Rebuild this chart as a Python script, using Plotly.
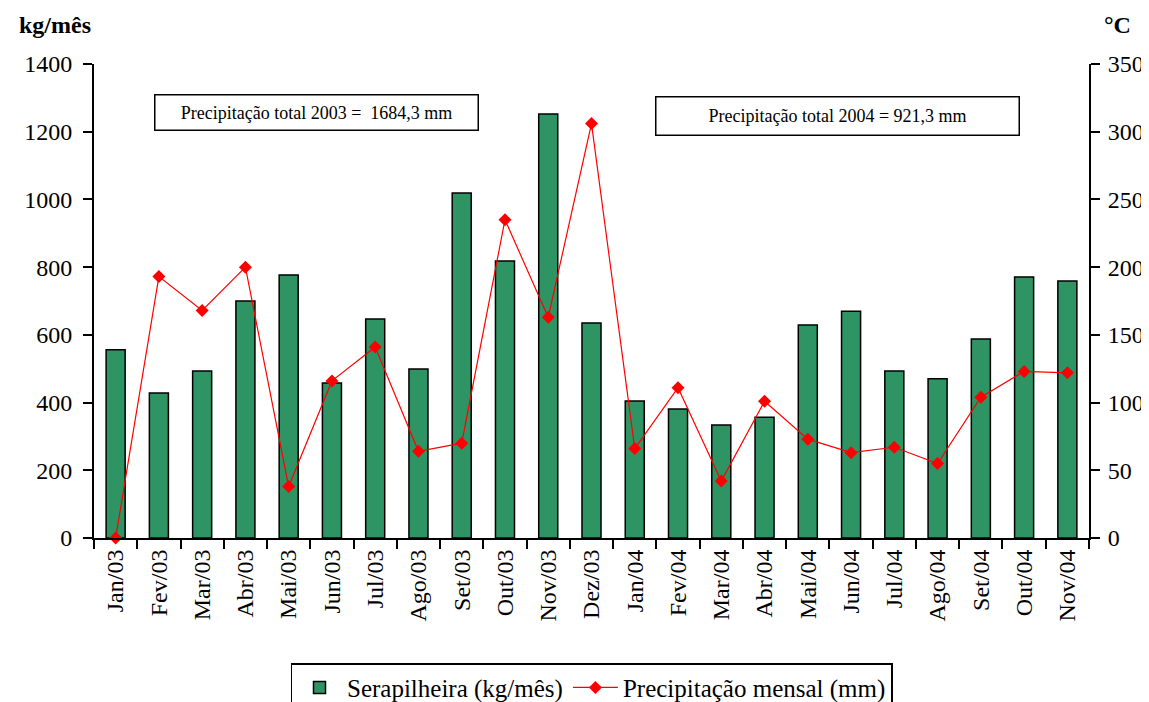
import plotly.graph_objects as go

meses = ["Jan/03", "Fev/03", "Mar/03", "Abr/03", "Mai/03", "Jun/03", "Jul/03", "Ago/03",
         "Set/03", "Out/03", "Nov/03", "Dez/03", "Jan/04", "Fev/04", "Mar/04", "Abr/04",
         "Mai/04", "Jun/04", "Jul/04", "Ago/04", "Set/04", "Out/04", "Nov/04"]

serapilheira = [556, 428, 493, 700, 777, 458, 647, 499, 1019, 818, 1252, 635,
                405, 381, 334, 357, 629, 670, 493, 470, 588, 771, 759]

precipitacao = [0, 193, 168, 200, 38, 116, 141, 64, 70, 235, 163, 306,
                66, 111, 42, 101, 73, 63, 67, 55, 104, 123, 122]

serif = "Liberation Serif"

fig = go.Figure()

fig.add_trace(go.Bar(
    x=meses, y=serapilheira, name="Serapilheira (kg/mês)",
    marker=dict(color="#2E9463", line=dict(color="black", width=1.5)),
))

fig.add_trace(go.Scatter(
    x=meses, y=precipitacao, name="Precipitação mensal (mm)", yaxis="y2",
    mode="lines+markers", cliponaxis=False,
    line=dict(color="#FF0000", width=1.2),
    marker=dict(symbol="diamond", size=10, color="#FF0000"),
))

axis_style = dict(ticks="outside", ticklen=9, tickwidth=2, tickcolor="black",
                  showline=True, linecolor="black", linewidth=2, showgrid=False,
                  zeroline=False, automargin=False,
                  tickfont=dict(family=serif, size=24, color="black"))

# page body adds 8px, so the figure is a bit smaller than the window
fig.update_layout(
    width=1141, height=694,
    margin=dict(l=86, r=60, t=56, b=164),
    paper_bgcolor="white", plot_bgcolor="white",
    font=dict(family=serif, size=22, color="black"),
    bargap=0.56,
    showlegend=True,
    legend=dict(orientation="h", x=0.5, xanchor="center",
                yref="container", y=0.056, yanchor="top",
                bordercolor="black", borderwidth=1.5, itemwidth=45,
                font=dict(family="serif", size=25, color="black"),
                traceorder="normal"),
    xaxis=dict(type="category", range=[-0.5, 22.5], tickangle=-90, tickson="boundaries",
               **axis_style),
    yaxis=dict(range=[0, 1400], dtick=200, ticklabelstandoff=6, **axis_style),
    yaxis2=dict(range=[0, 350], dtick=50, overlaying="y", side="right",
                ticklabelstandoff=3, **axis_style),
    annotations=[
        dict(text="<b>kg/mês</b>", xref="paper", yref="paper", x=-0.039, y=1.082,
             xanchor="center", yanchor="middle", showarrow=False,
             font=dict(family=serif, size=24)),
        dict(text="<b>°C</b>", xref="paper", yref="paper", x=1.029, y=1.082,
             xanchor="center", yanchor="middle", showarrow=False,
             font=dict(family=serif, size=24)),
        dict(text="Precipitação total 2003 =  1684,3 mm", xref="paper", yref="paper",
             x=0.224, y=0.897, xanchor="center", yanchor="middle", showarrow=False,
             font=dict(family=serif, size=18),
             bordercolor="black", borderwidth=1.5, width=318, height=30, borderpad=2),
        dict(text="Precipitação total 2004 = 921,3 mm", xref="paper", yref="paper",
             x=0.747, y=0.891, xanchor="center", yanchor="middle", showarrow=False,
             font=dict(family=serif, size=18),
             bordercolor="black", borderwidth=1.5, width=358, height=33, borderpad=2),
    ],
)

fig.write_html("out.html")
